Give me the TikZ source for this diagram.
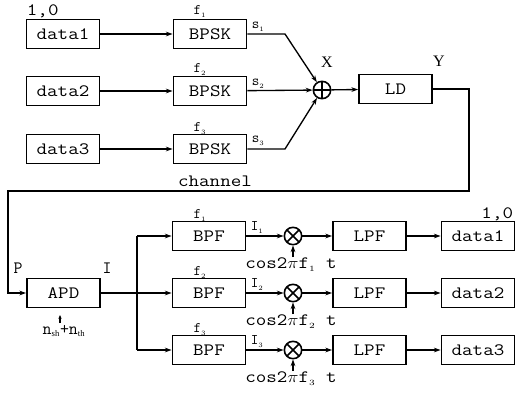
\documentclass[tikz,border=0pt]{standalone}
\usepackage{fontspec}
\setmainfont{Liberation Serif}
\usetikzlibrary{arrows.meta}
\newcommand\wtxt[1]{\scalebox{1.18}[1]{#1}}
\begin{document}
\begin{tikzpicture}[x=0.75pt,y=-0.75pt,
  blk/.style={draw, line width=1.2pt, minimum width=55pt, minimum height=21.5pt, inner sep=0pt, font=\ttfamily\fontsize{13}{14}\selectfont},
  lbl/.style={inner sep=0.5pt, font=\ttfamily\fontsize{13}{14}\selectfont},
  slbl/.style={inner sep=0.5pt, font=\ttfamily\fontsize{11}{12}\selectfont},
  arr/.style={-{Stealth[length=5pt,width=3.5pt]}, line width=1pt},
  ln/.style={line width=1pt},
  sumc/.style={circle, draw, line width=1.2pt, minimum size=13pt, inner sep=0pt,
    path picture={\draw[line width=1.2pt] (path picture bounding box.north) -- (path picture bounding box.south)
      (path picture bounding box.west) -- (path picture bounding box.east);}},
  mulc/.style={circle, draw, line width=1.2pt, minimum size=13pt, inner sep=0pt,
    path picture={\draw[line width=1.3pt] (path picture bounding box.north west) -- (path picture bounding box.south east)
      (path picture bounding box.south west) -- (path picture bounding box.north east);}}
]
\useasboundingbox (0,0) rectangle (516,392);
% transmitter
\node[blk] (d1) at (63,34) {\wtxt{data1}};
\node[blk] (d2) at (63,91) {\wtxt{data2}};
\node[blk] (d3) at (63,149) {\wtxt{data3}};
\node[blk] (m1) at (210,34) {\wtxt{BPSK}};
\node[blk] (m2) at (210,91) {\wtxt{BPSK}};
\node[blk] (m3) at (210,149) {\wtxt{BPSK}};
\node[sumc] (sum) at (322,90) {};
\node[blk] (ld) at (395.5,89) {\wtxt{LD}};
\node[lbl, anchor=south west] (t10) at (26,19) {\wtxt{1,0}};
\node[slbl, anchor=south] (fa) at (200,18) {f$_{\scriptscriptstyle 1}$};
\node[slbl, anchor=south] (fb) at (200,76) {f$_{\scriptscriptstyle 2}$};
\node[slbl, anchor=south] (fc) at (200,135) {f$_{\scriptscriptstyle 3}$};
\node[slbl, anchor=south west] (sa) at (251,32) {s$_{\scriptscriptstyle 1}$};
\node[slbl, anchor=south west] (sb) at (251,89) {s$_{\scriptscriptstyle 2}$};
\node[slbl, anchor=south west] (sc) at (251,146) {s$_{\scriptscriptstyle 3}$};
\node[font=\fontsize{12}{13}\selectfont] (xl) at (327,62) {X};
\node[font=\fontsize{12}{13}\selectfont] (yl) at (439,61) {Y};
\node[lbl] (ch) at (215,181) {\wtxt{channel}};
\coordinate (c1) at (285,34);
\coordinate (c3) at (285,149);
\coordinate (k1) at (469,89);
\coordinate (k2) at (469,191);
\coordinate (k3) at (8,191);
\coordinate (k4) at (8,293);
\draw[arr] (d1) -- (m1);
\draw[arr] (d2) -- (m2);
\draw[arr] (d3) -- (m3);
\draw[arr] (m1.east) -- (c1) -- (sum);
\draw[arr] (m2) -- (sum);
\draw[arr] (m3.east) -- (c3) -- (sum);
\draw[arr] (sum) -- (ld);
% receiver
\node[blk] (apd) at (63.5,293) {\wtxt{APD}};
\draw[arr] (ld.east) -- (k1) -- (k2) -- (k3) -- (k4) -- (apd.west);
\node[lbl] (pl) at (18,268) {P};
\node[lbl] (il) at (107,268) {I};
\coordinate (na) at (60,323);
\coordinate (nb) at (60,315);
\draw[-{Stealth[length=3pt,width=2.5pt]}, ln] (na) -- (nb);
\node[lbl] (nl) at (64,331) {n$_{\scriptscriptstyle\mathrm{sh}}$+n$_{\scriptscriptstyle\mathrm{th}}$};
\coordinate (j0) at (137,293);
\coordinate (j1) at (137,236);
\coordinate (j3) at (137,350);
\draw[ln] (apd.east) -- (j0);
\draw[ln] (j1) -- (j3);
\foreach \i/\y in {1/236,2/293,3/350}{
  \node[blk] (bp\i) at (209,\y) {\wtxt{BPF}};
  \node[mulc] (mx\i) at (293,\y) {};
  \node[blk] (lp\i) at (369.5,\y) {\wtxt{LPF}};
  \node[blk] (o\i) at (478,\y) {\wtxt{data\i}};
  \node[slbl, anchor=south] (fr\i) at (200,\y-14) {f$_{\scriptscriptstyle\i}$};
  \node[slbl, anchor=south west] (ii\i) at (250,\y-2) {I$_{\scriptscriptstyle\i}$};
  \node[lbl, anchor=north] (cs\i) at (291,\y+21) {\wtxt{cos2$\pi$f$_{\scriptscriptstyle\i}$ t}};
  \coordinate (ca\i) at (293,\y+21);
  \draw[arr] (137,\y) -- (bp\i);
  \draw[arr] (bp\i) -- (mx\i);
  \draw[arr] (mx\i) -- (lp\i);
  \draw[arr] (lp\i) -- (o\i);
  \draw[arr] (ca\i) -- (mx\i);
}
\node[lbl, anchor=south east] (t10b) at (514,222) {\wtxt{1,0}};
\end{tikzpicture}
\end{document}
